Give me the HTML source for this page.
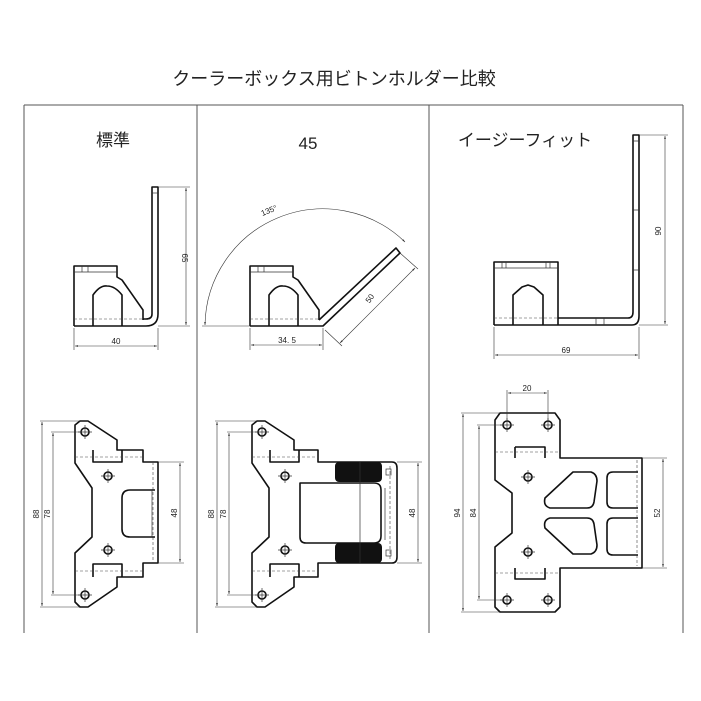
<!DOCTYPE html>
<html><head><meta charset="utf-8"><style>
body{margin:0;background:#fff}
svg{display:block}
text{font-family:"Liberation Sans","Noto Sans CJK JP",sans-serif;fill:#222}
.o{fill:none;stroke:#111;stroke-width:1.6;stroke-linejoin:round}
.t{fill:none;stroke:#333;stroke-width:0.7}
.d{fill:none;stroke:#444;stroke-width:0.6;stroke-dasharray:3 2}
.dim{fill:none;stroke:#333;stroke-width:0.6}
.s{font-size:8px}
</style></head><body>
<svg width="701" height="701" viewBox="0 0 701 701" xmlns="http://www.w3.org/2000/svg">
<defs><marker id="a" markerWidth="6" markerHeight="6" refX="5" refY="3" orient="auto-start-reverse"><path d="M0,1.5 L5,3 L0,4.5z" fill="#333"/></marker></defs>
<text x="334" y="85" font-size="18" text-anchor="middle" fill="#333">クーラーボックス用ビトンホルダー比較</text>
<path d="M24,105 H683 M24,105 V633 M197,105 V633 M429,105 V633 M683,105 V633" stroke="#555" stroke-width="1" fill="none"/>
<text x="113" y="146" font-size="17" text-anchor="middle" fill="#333">標準</text>
<text x="308" y="149" font-size="17" text-anchor="middle" fill="#333">45</text>
<text x="525" y="146" font-size="17" text-anchor="middle" fill="#333">イージーフィット</text>

<!-- Panel 1 side -->
<g>
<path class="o" d="M74,326 V266 H117 V277 L122,280 L143,310 V320"/>
<path class="t" d="M74,272 H117 M82,266 V272 M88,266 V272"/>
<path class="o" d="M93,326 V295 Q100,285 107,286 Q115,286 122,295 V326"/>
<path class="d" d="M74,319 H150"/>
<path class="o" d="M74,326 H146 Q158,326 158,314 V187 H152 V314 Q152,319 146,319 H143"/>
<path class="t" d="M152,193 H158"/>
<path class="dim" d="M158,187 H190 M158,326 H190 M74,328 V350 M158,328 V350"/>
<line class="dim" x1="186" y1="188" x2="186" y2="325" marker-start="url(#a)" marker-end="url(#a)"/>
<line class="dim" x1="75" y1="346" x2="157" y2="346" marker-start="url(#a)" marker-end="url(#a)"/>
<text class="s" x="116" y="344" text-anchor="middle">40</text>
<text class="s" transform="translate(182,258) rotate(90)" text-anchor="middle">65</text>
</g>

<!-- Panel 1 top -->
<g>
<path class="o" d="M75,425 L80,421 H88 L117,440 V450 H143 V462 H158 V563 H143 V577 H117 V587 L88,607 H80 L75,602 V553 L92,537 V488 L75,463 Z"/>
<path class="o" d="M93,450 V462 H122 V450 M93,577 V564 H122 V577"/>
<path class="d" d="M75,457 H143 M75,571 H143 M153,462 V563"/>
<path class="o" d="M155,490 H130 Q122,490 122,498 V529 Q122,537 130,537 H155"/>
<path class="t" d="M152,490 V537"/>
<g class="o"><circle cx="85" cy="432" r="4"/><circle cx="108" cy="476" r="4"/><circle cx="108" cy="550" r="4"/><circle cx="85" cy="595" r="4"/></g>
<path class="t" d="M78,432H92M85,425V439 M101,476H115M108,469V483 M101,550H115M108,543V557 M78,595H92M85,588V602"/>
<path class="dim" d="M40,421 H80 M51,432 H82 M40,607 H80 M51,595 H82 M158,462 H184 M158,563 H184"/>
<line class="dim" x1="42" y1="422" x2="42" y2="606" marker-start="url(#a)" marker-end="url(#a)"/>
<line class="dim" x1="53" y1="433" x2="53" y2="594" marker-start="url(#a)" marker-end="url(#a)"/>
<line class="dim" x1="180" y1="463" x2="180" y2="562" marker-start="url(#a)" marker-end="url(#a)"/>
<text class="s" transform="translate(39,514) rotate(-90)" text-anchor="middle">88</text>
<text class="s" transform="translate(50,514) rotate(-90)" text-anchor="middle">78</text>
<text class="s" transform="translate(177,513) rotate(-90)" text-anchor="middle">48</text>
</g>

<!-- Panel 2 side -->
<g>
<path class="o" d="M250,326 V266 H293 V277 L298,280 L319,310 V320"/>
<path class="t" d="M250,272 H293 M258,266 V272 M264,266 V272"/>
<path class="o" d="M269,326 V295 Q276,285 283,286 Q291,286 298,295 V326"/>
<path class="d" d="M250,319 H320"/>
<path class="o" d="M250,326 H323 L400,253 L396,248 L319,320"/>
<path class="dim" d="M205,325 A118,118 0 0 1 405,242" marker-start="url(#a)" marker-end="url(#a)"/>
<path class="dim" d="M202,326 H250 M250,328 V350 M323,328 V350 M325,330 L342,346 M400,253 L418,269"/>
<line class="dim" x1="340" y1="343" x2="415" y2="268" marker-start="url(#a)" marker-end="url(#a)"/>
<line class="dim" x1="251" y1="345" x2="322" y2="345" marker-start="url(#a)" marker-end="url(#a)"/>
<text class="s" x="287" y="343" text-anchor="middle">34. 5</text>
<text class="s" transform="translate(372,300) rotate(-55)" text-anchor="middle">50</text>
<text class="s" transform="translate(270,213) rotate(-22)" text-anchor="middle">135°</text>
</g>

<!-- Panel 2 top -->
<g>
<path class="o" d="M252,425 L257,421 H265 L294,440 V450 H318 V462 H392 Q397,462 397,468 V557 Q397,563 392,563 H318 V577 H294 V587 L265,607 H257 L252,602 V553 L269,537 V488 L252,463 Z"/>
<path class="o" d="M270,450 V462 H299 V450 M270,577 V564 H299 V577"/>
<path class="d" d="M252,457 H318 M252,571 H318 M390,466 V560"/>
<rect x="335" y="462" width="47" height="20" rx="4" fill="#111"/>
<rect x="335" y="543" width="47" height="20" rx="4" fill="#111"/>
<path class="o" d="M300,483 H374 Q381,483 381,490 V536 Q381,543 374,543 H306 Q300,543 300,537 Z"/>
<path class="t" d="M360,462 V563 M385,488 V540"/>
<rect class="t" x="386" y="469" width="5" height="6"/><rect class="t" x="386" y="550" width="5" height="6"/>
<g class="o"><circle cx="262" cy="432" r="4"/><circle cx="285" cy="476" r="4"/><circle cx="285" cy="550" r="4"/><circle cx="262" cy="595" r="4"/></g>
<path class="t" d="M255,432H269M262,425V439 M278,476H292M285,469V483 M278,550H292M285,543V557 M255,595H269M262,588V602"/>
<path class="dim" d="M215,421 H257 M227,432 H259 M215,607 H257 M227,595 H259 M397,462 H422 M397,563 H422"/>
<line class="dim" x1="217" y1="422" x2="217" y2="606" marker-start="url(#a)" marker-end="url(#a)"/>
<line class="dim" x1="229" y1="433" x2="229" y2="594" marker-start="url(#a)" marker-end="url(#a)"/>
<line class="dim" x1="418" y1="463" x2="418" y2="562" marker-start="url(#a)" marker-end="url(#a)"/>
<text class="s" transform="translate(214,514) rotate(-90)" text-anchor="middle">88</text>
<text class="s" transform="translate(226,514) rotate(-90)" text-anchor="middle">78</text>
<text class="s" transform="translate(415,513) rotate(-90)" text-anchor="middle">48</text>
</g>

<!-- Panel 3 side -->
<g>
<path class="o" d="M494,325 V262 H558 V325"/>
<path class="t" d="M494,268 H558 M502,262 V268 M506,262 V268 M546,262 V268 M550,262 V268"/>
<path class="o" d="M513,325 V295 L522,287 L528,285 L534,287 L543,295 V325"/>
<path class="d" d="M494,318 H558"/>
<path class="o" d="M494,325 H632 Q639,325 639,316 V135 H633 V312 Q633,318 628,318 H558"/>
<path class="t" d="M633,141 H639 M633,210 H639 M633,270 H639 M596,318 V325 M604,318 V325"/>
<path class="dim" d="M639,135 H668 M639,325 H668 M494,327 V359 M639,327 V359"/>
<line class="dim" x1="665" y1="136" x2="665" y2="324" marker-start="url(#a)" marker-end="url(#a)"/>
<line class="dim" x1="495" y1="355" x2="638" y2="355" marker-start="url(#a)" marker-end="url(#a)"/>
<text class="s" x="566" y="353" text-anchor="middle">69</text>
<text class="s" transform="translate(661,231) rotate(-90)" text-anchor="middle">90</text>
</g>

<!-- Panel 3 top -->
<g>
<path class="o" d="M495,420 L500,413 H555 L560,420 V458 H642 V568 H560 V607 L555,612 H500 L495,607 V547 L512,533 V493 L495,480 Z"/>
<path class="o" d="M515,447 H545 V458 M515,458 V447 M515,568 V579 H545 V568"/>
<path class="d" d="M495,452 H560 M495,573 H560 M637,460 V566"/>
<path class="o" d="M545,498 L573,472 H591 Q597,474 597,481 L594,502 Q593,508 587,508 H550 Q543,506 545,498 Z"/>
<path class="o" d="M545,528 L573,554 H591 Q597,552 597,545 L594,524 Q593,518 587,518 H550 Q543,520 545,528 Z"/>
<path class="o" d="M638,472 H613 Q607,472 607,478 V502 Q607,508 613,508 H638 M638,518 H613 Q607,518 607,524 V549 Q607,555 613,555 H638"/>
<g class="o"><circle cx="507" cy="425" r="4"/><circle cx="548" cy="425" r="4"/><circle cx="528" cy="477" r="4"/><circle cx="528" cy="552" r="4"/><circle cx="507" cy="600" r="4"/><circle cx="548" cy="600" r="4"/></g>
<path class="t" d="M500,425H514M507,418V432 M541,425H555M548,418V432 M521,477H535M528,470V484 M521,552H535M528,545V559 M500,600H514M507,593V607 M541,600H555M548,593V607"/>
<path class="dim" d="M461,413 H500 M477,425 H503 M461,612 H500 M477,600 H503 M642,458 H667 M642,568 H667 M507,390 V420 M548,390 V420"/>
<line class="dim" x1="463" y1="414" x2="463" y2="611" marker-start="url(#a)" marker-end="url(#a)"/>
<line class="dim" x1="479" y1="426" x2="479" y2="599" marker-start="url(#a)" marker-end="url(#a)"/>
<line class="dim" x1="663" y1="459" x2="663" y2="567" marker-start="url(#a)" marker-end="url(#a)"/>
<line class="dim" x1="508" y1="393" x2="547" y2="393" marker-start="url(#a)" marker-end="url(#a)"/>
<text class="s" x="527" y="391" text-anchor="middle">20</text>
<text class="s" transform="translate(460,513) rotate(-90)" text-anchor="middle">94</text>
<text class="s" transform="translate(476,513) rotate(-90)" text-anchor="middle">84</text>
<text class="s" transform="translate(660,513) rotate(-90)" text-anchor="middle">52</text>
</g>
</svg>
</body></html>
